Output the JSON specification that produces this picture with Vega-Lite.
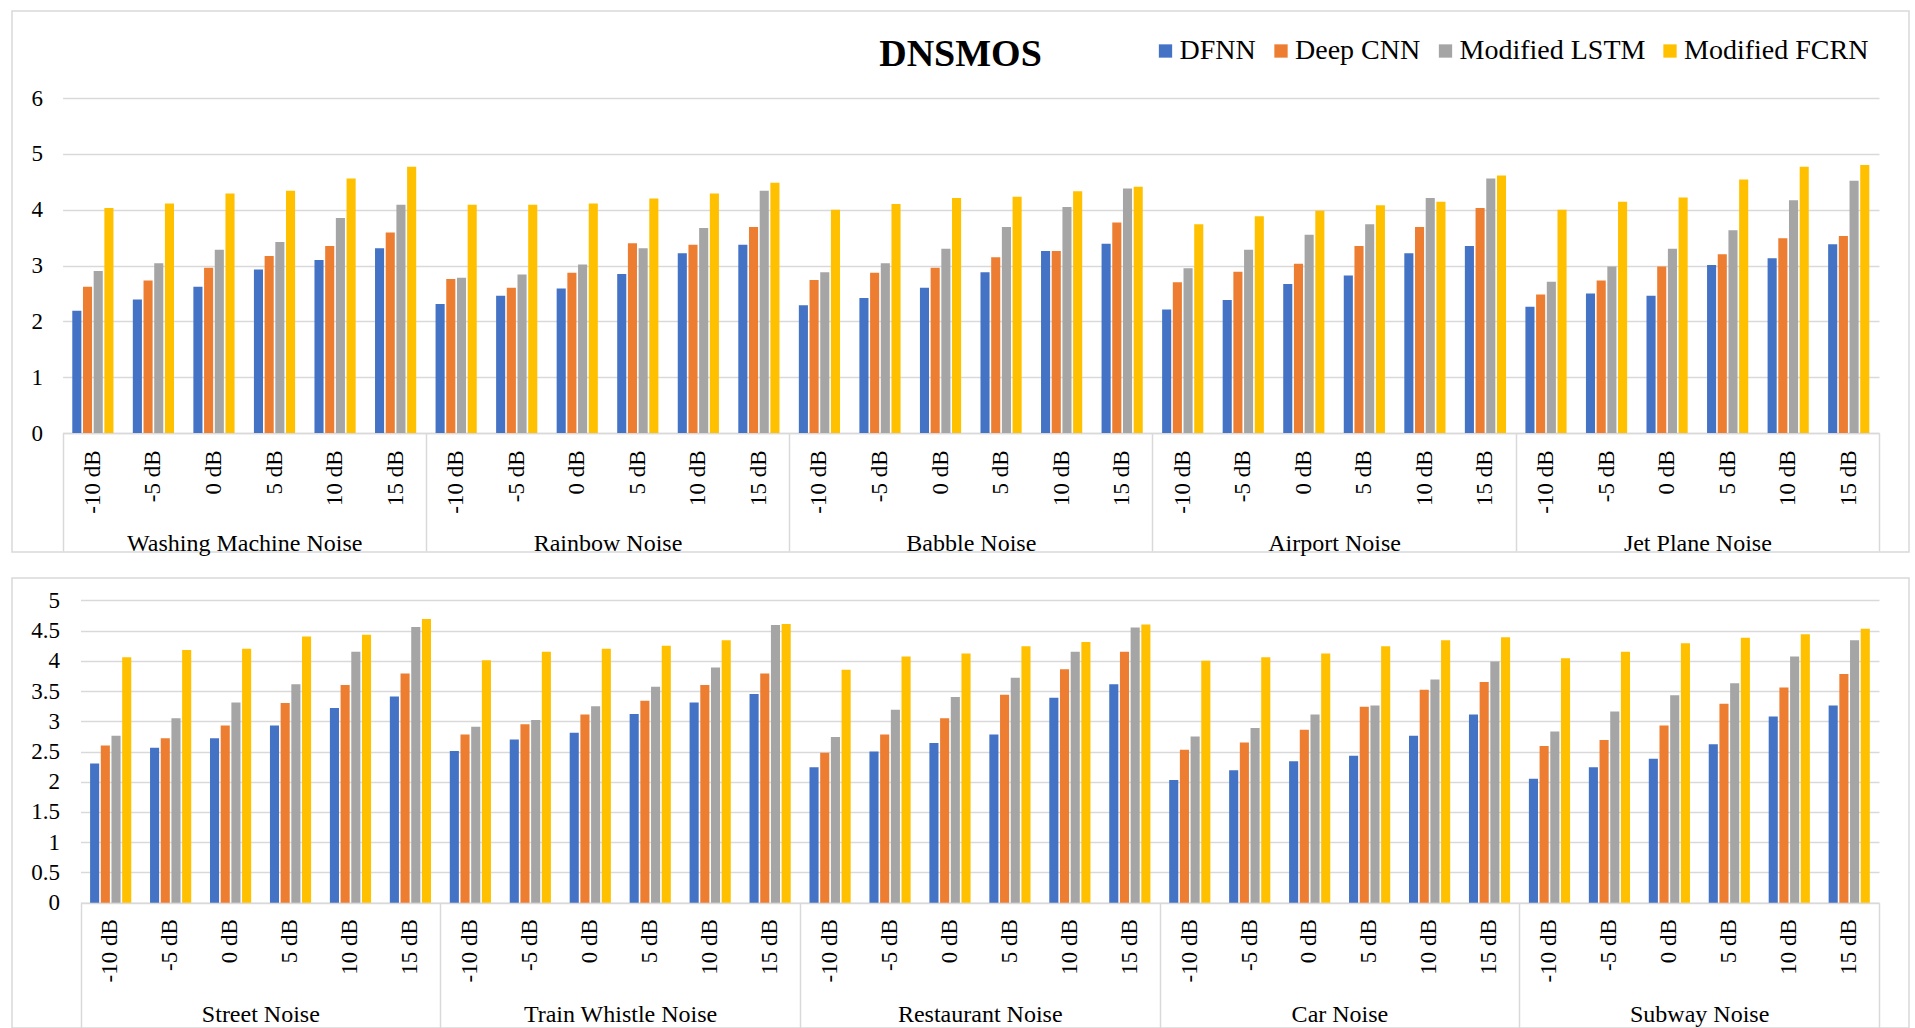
{
  "$schema": "https://vega.github.io/schema/vega-lite/v6.json",
  "background": "white",
  "padding": {"left": 11, "top": 10, "right": 0, "bottom": 0},
  "config": {
    "font": "Liberation Serif",
    "view": {"stroke": "#D9D9D9", "strokeWidth": 1.5},
    "axis": {"labelFont": "Liberation Serif", "labelColor": "#000000", "title": null},
    "legend": {"labelFont": "Liberation Serif", "labelColor": "#000000"}
  },
  "datasets": {
    "top": [
      {"noise": "Washing Machine Noise", "snr": "-10 dB", "model": "DFNN", "score": 2.19},
      {"noise": "Washing Machine Noise", "snr": "-10 dB", "model": "Deep CNN", "score": 2.62},
      {"noise": "Washing Machine Noise", "snr": "-10 dB", "model": "Modified LSTM", "score": 2.90},
      {"noise": "Washing Machine Noise", "snr": "-10 dB", "model": "Modified FCRN", "score": 4.03},
      {"noise": "Washing Machine Noise", "snr": "-5 dB", "model": "DFNN", "score": 2.39},
      {"noise": "Washing Machine Noise", "snr": "-5 dB", "model": "Deep CNN", "score": 2.73},
      {"noise": "Washing Machine Noise", "snr": "-5 dB", "model": "Modified LSTM", "score": 3.04},
      {"noise": "Washing Machine Noise", "snr": "-5 dB", "model": "Modified FCRN", "score": 4.11},
      {"noise": "Washing Machine Noise", "snr": "0 dB", "model": "DFNN", "score": 2.62},
      {"noise": "Washing Machine Noise", "snr": "0 dB", "model": "Deep CNN", "score": 2.96},
      {"noise": "Washing Machine Noise", "snr": "0 dB", "model": "Modified LSTM", "score": 3.28},
      {"noise": "Washing Machine Noise", "snr": "0 dB", "model": "Modified FCRN", "score": 4.29},
      {"noise": "Washing Machine Noise", "snr": "5 dB", "model": "DFNN", "score": 2.93},
      {"noise": "Washing Machine Noise", "snr": "5 dB", "model": "Deep CNN", "score": 3.17},
      {"noise": "Washing Machine Noise", "snr": "5 dB", "model": "Modified LSTM", "score": 3.42},
      {"noise": "Washing Machine Noise", "snr": "5 dB", "model": "Modified FCRN", "score": 4.34},
      {"noise": "Washing Machine Noise", "snr": "10 dB", "model": "DFNN", "score": 3.10},
      {"noise": "Washing Machine Noise", "snr": "10 dB", "model": "Deep CNN", "score": 3.35},
      {"noise": "Washing Machine Noise", "snr": "10 dB", "model": "Modified LSTM", "score": 3.85},
      {"noise": "Washing Machine Noise", "snr": "10 dB", "model": "Modified FCRN", "score": 4.56},
      {"noise": "Washing Machine Noise", "snr": "15 dB", "model": "DFNN", "score": 3.31},
      {"noise": "Washing Machine Noise", "snr": "15 dB", "model": "Deep CNN", "score": 3.59},
      {"noise": "Washing Machine Noise", "snr": "15 dB", "model": "Modified LSTM", "score": 4.09},
      {"noise": "Washing Machine Noise", "snr": "15 dB", "model": "Modified FCRN", "score": 4.77},
      {"noise": "Rainbow Noise", "snr": "-10 dB", "model": "DFNN", "score": 2.31},
      {"noise": "Rainbow Noise", "snr": "-10 dB", "model": "Deep CNN", "score": 2.76},
      {"noise": "Rainbow Noise", "snr": "-10 dB", "model": "Modified LSTM", "score": 2.78},
      {"noise": "Rainbow Noise", "snr": "-10 dB", "model": "Modified FCRN", "score": 4.09},
      {"noise": "Rainbow Noise", "snr": "-5 dB", "model": "DFNN", "score": 2.46},
      {"noise": "Rainbow Noise", "snr": "-5 dB", "model": "Deep CNN", "score": 2.60},
      {"noise": "Rainbow Noise", "snr": "-5 dB", "model": "Modified LSTM", "score": 2.84},
      {"noise": "Rainbow Noise", "snr": "-5 dB", "model": "Modified FCRN", "score": 4.09},
      {"noise": "Rainbow Noise", "snr": "0 dB", "model": "DFNN", "score": 2.59},
      {"noise": "Rainbow Noise", "snr": "0 dB", "model": "Deep CNN", "score": 2.87},
      {"noise": "Rainbow Noise", "snr": "0 dB", "model": "Modified LSTM", "score": 3.02},
      {"noise": "Rainbow Noise", "snr": "0 dB", "model": "Modified FCRN", "score": 4.11},
      {"noise": "Rainbow Noise", "snr": "5 dB", "model": "DFNN", "score": 2.85},
      {"noise": "Rainbow Noise", "snr": "5 dB", "model": "Deep CNN", "score": 3.40},
      {"noise": "Rainbow Noise", "snr": "5 dB", "model": "Modified LSTM", "score": 3.31},
      {"noise": "Rainbow Noise", "snr": "5 dB", "model": "Modified FCRN", "score": 4.20},
      {"noise": "Rainbow Noise", "snr": "10 dB", "model": "DFNN", "score": 3.22},
      {"noise": "Rainbow Noise", "snr": "10 dB", "model": "Deep CNN", "score": 3.37},
      {"noise": "Rainbow Noise", "snr": "10 dB", "model": "Modified LSTM", "score": 3.67},
      {"noise": "Rainbow Noise", "snr": "10 dB", "model": "Modified FCRN", "score": 4.29},
      {"noise": "Rainbow Noise", "snr": "15 dB", "model": "DFNN", "score": 3.37},
      {"noise": "Rainbow Noise", "snr": "15 dB", "model": "Deep CNN", "score": 3.69},
      {"noise": "Rainbow Noise", "snr": "15 dB", "model": "Modified LSTM", "score": 4.34},
      {"noise": "Rainbow Noise", "snr": "15 dB", "model": "Modified FCRN", "score": 4.48},
      {"noise": "Babble Noise", "snr": "-10 dB", "model": "DFNN", "score": 2.29},
      {"noise": "Babble Noise", "snr": "-10 dB", "model": "Deep CNN", "score": 2.74},
      {"noise": "Babble Noise", "snr": "-10 dB", "model": "Modified LSTM", "score": 2.88},
      {"noise": "Babble Noise", "snr": "-10 dB", "model": "Modified FCRN", "score": 4.00},
      {"noise": "Babble Noise", "snr": "-5 dB", "model": "DFNN", "score": 2.42},
      {"noise": "Babble Noise", "snr": "-5 dB", "model": "Deep CNN", "score": 2.87},
      {"noise": "Babble Noise", "snr": "-5 dB", "model": "Modified LSTM", "score": 3.04},
      {"noise": "Babble Noise", "snr": "-5 dB", "model": "Modified FCRN", "score": 4.10},
      {"noise": "Babble Noise", "snr": "0 dB", "model": "DFNN", "score": 2.60},
      {"noise": "Babble Noise", "snr": "0 dB", "model": "Deep CNN", "score": 2.96},
      {"noise": "Babble Noise", "snr": "0 dB", "model": "Modified LSTM", "score": 3.30},
      {"noise": "Babble Noise", "snr": "0 dB", "model": "Modified FCRN", "score": 4.21},
      {"noise": "Babble Noise", "snr": "5 dB", "model": "DFNN", "score": 2.88},
      {"noise": "Babble Noise", "snr": "5 dB", "model": "Deep CNN", "score": 3.15},
      {"noise": "Babble Noise", "snr": "5 dB", "model": "Modified LSTM", "score": 3.69},
      {"noise": "Babble Noise", "snr": "5 dB", "model": "Modified FCRN", "score": 4.23},
      {"noise": "Babble Noise", "snr": "10 dB", "model": "DFNN", "score": 3.26},
      {"noise": "Babble Noise", "snr": "10 dB", "model": "Deep CNN", "score": 3.26},
      {"noise": "Babble Noise", "snr": "10 dB", "model": "Modified LSTM", "score": 4.05},
      {"noise": "Babble Noise", "snr": "10 dB", "model": "Modified FCRN", "score": 4.33},
      {"noise": "Babble Noise", "snr": "15 dB", "model": "DFNN", "score": 3.39},
      {"noise": "Babble Noise", "snr": "15 dB", "model": "Deep CNN", "score": 3.77},
      {"noise": "Babble Noise", "snr": "15 dB", "model": "Modified LSTM", "score": 4.38},
      {"noise": "Babble Noise", "snr": "15 dB", "model": "Modified FCRN", "score": 4.41},
      {"noise": "Airport Noise", "snr": "-10 dB", "model": "DFNN", "score": 2.21},
      {"noise": "Airport Noise", "snr": "-10 dB", "model": "Deep CNN", "score": 2.70},
      {"noise": "Airport Noise", "snr": "-10 dB", "model": "Modified LSTM", "score": 2.95},
      {"noise": "Airport Noise", "snr": "-10 dB", "model": "Modified FCRN", "score": 3.74},
      {"noise": "Airport Noise", "snr": "-5 dB", "model": "DFNN", "score": 2.38},
      {"noise": "Airport Noise", "snr": "-5 dB", "model": "Deep CNN", "score": 2.89},
      {"noise": "Airport Noise", "snr": "-5 dB", "model": "Modified LSTM", "score": 3.28},
      {"noise": "Airport Noise", "snr": "-5 dB", "model": "Modified FCRN", "score": 3.88},
      {"noise": "Airport Noise", "snr": "0 dB", "model": "DFNN", "score": 2.67},
      {"noise": "Airport Noise", "snr": "0 dB", "model": "Deep CNN", "score": 3.03},
      {"noise": "Airport Noise", "snr": "0 dB", "model": "Modified LSTM", "score": 3.55},
      {"noise": "Airport Noise", "snr": "0 dB", "model": "Modified FCRN", "score": 3.98},
      {"noise": "Airport Noise", "snr": "5 dB", "model": "DFNN", "score": 2.82},
      {"noise": "Airport Noise", "snr": "5 dB", "model": "Deep CNN", "score": 3.35},
      {"noise": "Airport Noise", "snr": "5 dB", "model": "Modified LSTM", "score": 3.74},
      {"noise": "Airport Noise", "snr": "5 dB", "model": "Modified FCRN", "score": 4.08},
      {"noise": "Airport Noise", "snr": "10 dB", "model": "DFNN", "score": 3.22},
      {"noise": "Airport Noise", "snr": "10 dB", "model": "Deep CNN", "score": 3.69},
      {"noise": "Airport Noise", "snr": "10 dB", "model": "Modified LSTM", "score": 4.21},
      {"noise": "Airport Noise", "snr": "10 dB", "model": "Modified FCRN", "score": 4.14},
      {"noise": "Airport Noise", "snr": "15 dB", "model": "DFNN", "score": 3.35},
      {"noise": "Airport Noise", "snr": "15 dB", "model": "Deep CNN", "score": 4.03},
      {"noise": "Airport Noise", "snr": "15 dB", "model": "Modified LSTM", "score": 4.56},
      {"noise": "Airport Noise", "snr": "15 dB", "model": "Modified FCRN", "score": 4.61},
      {"noise": "Jet Plane Noise", "snr": "-10 dB", "model": "DFNN", "score": 2.26},
      {"noise": "Jet Plane Noise", "snr": "-10 dB", "model": "Deep CNN", "score": 2.48},
      {"noise": "Jet Plane Noise", "snr": "-10 dB", "model": "Modified LSTM", "score": 2.71},
      {"noise": "Jet Plane Noise", "snr": "-10 dB", "model": "Modified FCRN", "score": 4.00},
      {"noise": "Jet Plane Noise", "snr": "-5 dB", "model": "DFNN", "score": 2.50},
      {"noise": "Jet Plane Noise", "snr": "-5 dB", "model": "Deep CNN", "score": 2.73},
      {"noise": "Jet Plane Noise", "snr": "-5 dB", "model": "Modified LSTM", "score": 2.98},
      {"noise": "Jet Plane Noise", "snr": "-5 dB", "model": "Modified FCRN", "score": 4.14},
      {"noise": "Jet Plane Noise", "snr": "0 dB", "model": "DFNN", "score": 2.46},
      {"noise": "Jet Plane Noise", "snr": "0 dB", "model": "Deep CNN", "score": 2.98},
      {"noise": "Jet Plane Noise", "snr": "0 dB", "model": "Modified LSTM", "score": 3.30},
      {"noise": "Jet Plane Noise", "snr": "0 dB", "model": "Modified FCRN", "score": 4.22},
      {"noise": "Jet Plane Noise", "snr": "5 dB", "model": "DFNN", "score": 3.01},
      {"noise": "Jet Plane Noise", "snr": "5 dB", "model": "Deep CNN", "score": 3.20},
      {"noise": "Jet Plane Noise", "snr": "5 dB", "model": "Modified LSTM", "score": 3.63},
      {"noise": "Jet Plane Noise", "snr": "5 dB", "model": "Modified FCRN", "score": 4.54},
      {"noise": "Jet Plane Noise", "snr": "10 dB", "model": "DFNN", "score": 3.13},
      {"noise": "Jet Plane Noise", "snr": "10 dB", "model": "Deep CNN", "score": 3.49},
      {"noise": "Jet Plane Noise", "snr": "10 dB", "model": "Modified LSTM", "score": 4.17},
      {"noise": "Jet Plane Noise", "snr": "10 dB", "model": "Modified FCRN", "score": 4.77},
      {"noise": "Jet Plane Noise", "snr": "15 dB", "model": "DFNN", "score": 3.38},
      {"noise": "Jet Plane Noise", "snr": "15 dB", "model": "Deep CNN", "score": 3.53},
      {"noise": "Jet Plane Noise", "snr": "15 dB", "model": "Modified LSTM", "score": 4.52},
      {"noise": "Jet Plane Noise", "snr": "15 dB", "model": "Modified FCRN", "score": 4.80}
    ],
    "bottom": [
      {"noise": "Street Noise", "snr": "-10 dB", "model": "DFNN", "score": 2.30},
      {"noise": "Street Noise", "snr": "-10 dB", "model": "Deep CNN", "score": 2.60},
      {"noise": "Street Noise", "snr": "-10 dB", "model": "Modified LSTM", "score": 2.76},
      {"noise": "Street Noise", "snr": "-10 dB", "model": "Modified FCRN", "score": 4.06},
      {"noise": "Street Noise", "snr": "-5 dB", "model": "DFNN", "score": 2.56},
      {"noise": "Street Noise", "snr": "-5 dB", "model": "Deep CNN", "score": 2.72},
      {"noise": "Street Noise", "snr": "-5 dB", "model": "Modified LSTM", "score": 3.05},
      {"noise": "Street Noise", "snr": "-5 dB", "model": "Modified FCRN", "score": 4.18},
      {"noise": "Street Noise", "snr": "0 dB", "model": "DFNN", "score": 2.72},
      {"noise": "Street Noise", "snr": "0 dB", "model": "Deep CNN", "score": 2.93},
      {"noise": "Street Noise", "snr": "0 dB", "model": "Modified LSTM", "score": 3.31},
      {"noise": "Street Noise", "snr": "0 dB", "model": "Modified FCRN", "score": 4.20},
      {"noise": "Street Noise", "snr": "5 dB", "model": "DFNN", "score": 2.93},
      {"noise": "Street Noise", "snr": "5 dB", "model": "Deep CNN", "score": 3.30},
      {"noise": "Street Noise", "snr": "5 dB", "model": "Modified LSTM", "score": 3.61},
      {"noise": "Street Noise", "snr": "5 dB", "model": "Modified FCRN", "score": 4.40},
      {"noise": "Street Noise", "snr": "10 dB", "model": "DFNN", "score": 3.22},
      {"noise": "Street Noise", "snr": "10 dB", "model": "Deep CNN", "score": 3.60},
      {"noise": "Street Noise", "snr": "10 dB", "model": "Modified LSTM", "score": 4.15},
      {"noise": "Street Noise", "snr": "10 dB", "model": "Modified FCRN", "score": 4.43},
      {"noise": "Street Noise", "snr": "15 dB", "model": "DFNN", "score": 3.41},
      {"noise": "Street Noise", "snr": "15 dB", "model": "Deep CNN", "score": 3.79},
      {"noise": "Street Noise", "snr": "15 dB", "model": "Modified LSTM", "score": 4.56},
      {"noise": "Street Noise", "snr": "15 dB", "model": "Modified FCRN", "score": 4.69},
      {"noise": "Train Whistle Noise", "snr": "-10 dB", "model": "DFNN", "score": 2.51},
      {"noise": "Train Whistle Noise", "snr": "-10 dB", "model": "Deep CNN", "score": 2.78},
      {"noise": "Train Whistle Noise", "snr": "-10 dB", "model": "Modified LSTM", "score": 2.91},
      {"noise": "Train Whistle Noise", "snr": "-10 dB", "model": "Modified FCRN", "score": 4.01},
      {"noise": "Train Whistle Noise", "snr": "-5 dB", "model": "DFNN", "score": 2.70},
      {"noise": "Train Whistle Noise", "snr": "-5 dB", "model": "Deep CNN", "score": 2.95},
      {"noise": "Train Whistle Noise", "snr": "-5 dB", "model": "Modified LSTM", "score": 3.02},
      {"noise": "Train Whistle Noise", "snr": "-5 dB", "model": "Modified FCRN", "score": 4.15},
      {"noise": "Train Whistle Noise", "snr": "0 dB", "model": "DFNN", "score": 2.81},
      {"noise": "Train Whistle Noise", "snr": "0 dB", "model": "Deep CNN", "score": 3.11},
      {"noise": "Train Whistle Noise", "snr": "0 dB", "model": "Modified LSTM", "score": 3.25},
      {"noise": "Train Whistle Noise", "snr": "0 dB", "model": "Modified FCRN", "score": 4.20},
      {"noise": "Train Whistle Noise", "snr": "5 dB", "model": "DFNN", "score": 3.12},
      {"noise": "Train Whistle Noise", "snr": "5 dB", "model": "Deep CNN", "score": 3.34},
      {"noise": "Train Whistle Noise", "snr": "5 dB", "model": "Modified LSTM", "score": 3.57},
      {"noise": "Train Whistle Noise", "snr": "5 dB", "model": "Modified FCRN", "score": 4.25},
      {"noise": "Train Whistle Noise", "snr": "10 dB", "model": "DFNN", "score": 3.31},
      {"noise": "Train Whistle Noise", "snr": "10 dB", "model": "Deep CNN", "score": 3.60},
      {"noise": "Train Whistle Noise", "snr": "10 dB", "model": "Modified LSTM", "score": 3.89},
      {"noise": "Train Whistle Noise", "snr": "10 dB", "model": "Modified FCRN", "score": 4.34},
      {"noise": "Train Whistle Noise", "snr": "15 dB", "model": "DFNN", "score": 3.45},
      {"noise": "Train Whistle Noise", "snr": "15 dB", "model": "Deep CNN", "score": 3.79},
      {"noise": "Train Whistle Noise", "snr": "15 dB", "model": "Modified LSTM", "score": 4.59},
      {"noise": "Train Whistle Noise", "snr": "15 dB", "model": "Modified FCRN", "score": 4.61},
      {"noise": "Restaurant Noise", "snr": "-10 dB", "model": "DFNN", "score": 2.24},
      {"noise": "Restaurant Noise", "snr": "-10 dB", "model": "Deep CNN", "score": 2.48},
      {"noise": "Restaurant Noise", "snr": "-10 dB", "model": "Modified LSTM", "score": 2.74},
      {"noise": "Restaurant Noise", "snr": "-10 dB", "model": "Modified FCRN", "score": 3.85},
      {"noise": "Restaurant Noise", "snr": "-5 dB", "model": "DFNN", "score": 2.50},
      {"noise": "Restaurant Noise", "snr": "-5 dB", "model": "Deep CNN", "score": 2.78},
      {"noise": "Restaurant Noise", "snr": "-5 dB", "model": "Modified LSTM", "score": 3.19},
      {"noise": "Restaurant Noise", "snr": "-5 dB", "model": "Modified FCRN", "score": 4.07},
      {"noise": "Restaurant Noise", "snr": "0 dB", "model": "DFNN", "score": 2.64},
      {"noise": "Restaurant Noise", "snr": "0 dB", "model": "Deep CNN", "score": 3.05},
      {"noise": "Restaurant Noise", "snr": "0 dB", "model": "Modified LSTM", "score": 3.40},
      {"noise": "Restaurant Noise", "snr": "0 dB", "model": "Modified FCRN", "score": 4.12},
      {"noise": "Restaurant Noise", "snr": "5 dB", "model": "DFNN", "score": 2.78},
      {"noise": "Restaurant Noise", "snr": "5 dB", "model": "Deep CNN", "score": 3.44},
      {"noise": "Restaurant Noise", "snr": "5 dB", "model": "Modified LSTM", "score": 3.72},
      {"noise": "Restaurant Noise", "snr": "5 dB", "model": "Modified FCRN", "score": 4.24},
      {"noise": "Restaurant Noise", "snr": "10 dB", "model": "DFNN", "score": 3.39},
      {"noise": "Restaurant Noise", "snr": "10 dB", "model": "Deep CNN", "score": 3.86},
      {"noise": "Restaurant Noise", "snr": "10 dB", "model": "Modified LSTM", "score": 4.15},
      {"noise": "Restaurant Noise", "snr": "10 dB", "model": "Modified FCRN", "score": 4.31},
      {"noise": "Restaurant Noise", "snr": "15 dB", "model": "DFNN", "score": 3.61},
      {"noise": "Restaurant Noise", "snr": "15 dB", "model": "Deep CNN", "score": 4.15},
      {"noise": "Restaurant Noise", "snr": "15 dB", "model": "Modified LSTM", "score": 4.55},
      {"noise": "Restaurant Noise", "snr": "15 dB", "model": "Modified FCRN", "score": 4.60},
      {"noise": "Car Noise", "snr": "-10 dB", "model": "DFNN", "score": 2.03},
      {"noise": "Car Noise", "snr": "-10 dB", "model": "Deep CNN", "score": 2.53},
      {"noise": "Car Noise", "snr": "-10 dB", "model": "Modified LSTM", "score": 2.75},
      {"noise": "Car Noise", "snr": "-10 dB", "model": "Modified FCRN", "score": 4.00},
      {"noise": "Car Noise", "snr": "-5 dB", "model": "DFNN", "score": 2.19},
      {"noise": "Car Noise", "snr": "-5 dB", "model": "Deep CNN", "score": 2.65},
      {"noise": "Car Noise", "snr": "-5 dB", "model": "Modified LSTM", "score": 2.89},
      {"noise": "Car Noise", "snr": "-5 dB", "model": "Modified FCRN", "score": 4.06},
      {"noise": "Car Noise", "snr": "0 dB", "model": "DFNN", "score": 2.34},
      {"noise": "Car Noise", "snr": "0 dB", "model": "Deep CNN", "score": 2.86},
      {"noise": "Car Noise", "snr": "0 dB", "model": "Modified LSTM", "score": 3.11},
      {"noise": "Car Noise", "snr": "0 dB", "model": "Modified FCRN", "score": 4.12},
      {"noise": "Car Noise", "snr": "5 dB", "model": "DFNN", "score": 2.43},
      {"noise": "Car Noise", "snr": "5 dB", "model": "Deep CNN", "score": 3.24},
      {"noise": "Car Noise", "snr": "5 dB", "model": "Modified LSTM", "score": 3.26},
      {"noise": "Car Noise", "snr": "5 dB", "model": "Modified FCRN", "score": 4.24},
      {"noise": "Car Noise", "snr": "10 dB", "model": "DFNN", "score": 2.76},
      {"noise": "Car Noise", "snr": "10 dB", "model": "Deep CNN", "score": 3.52},
      {"noise": "Car Noise", "snr": "10 dB", "model": "Modified LSTM", "score": 3.69},
      {"noise": "Car Noise", "snr": "10 dB", "model": "Modified FCRN", "score": 4.34},
      {"noise": "Car Noise", "snr": "15 dB", "model": "DFNN", "score": 3.11},
      {"noise": "Car Noise", "snr": "15 dB", "model": "Deep CNN", "score": 3.65},
      {"noise": "Car Noise", "snr": "15 dB", "model": "Modified LSTM", "score": 3.99},
      {"noise": "Car Noise", "snr": "15 dB", "model": "Modified FCRN", "score": 4.39},
      {"noise": "Subway Noise", "snr": "-10 dB", "model": "DFNN", "score": 2.05},
      {"noise": "Subway Noise", "snr": "-10 dB", "model": "Deep CNN", "score": 2.59},
      {"noise": "Subway Noise", "snr": "-10 dB", "model": "Modified LSTM", "score": 2.83},
      {"noise": "Subway Noise", "snr": "-10 dB", "model": "Modified FCRN", "score": 4.04},
      {"noise": "Subway Noise", "snr": "-5 dB", "model": "DFNN", "score": 2.24},
      {"noise": "Subway Noise", "snr": "-5 dB", "model": "Deep CNN", "score": 2.69},
      {"noise": "Subway Noise", "snr": "-5 dB", "model": "Modified LSTM", "score": 3.16},
      {"noise": "Subway Noise", "snr": "-5 dB", "model": "Modified FCRN", "score": 4.15},
      {"noise": "Subway Noise", "snr": "0 dB", "model": "DFNN", "score": 2.38},
      {"noise": "Subway Noise", "snr": "0 dB", "model": "Deep CNN", "score": 2.93},
      {"noise": "Subway Noise", "snr": "0 dB", "model": "Modified LSTM", "score": 3.43},
      {"noise": "Subway Noise", "snr": "0 dB", "model": "Modified FCRN", "score": 4.29},
      {"noise": "Subway Noise", "snr": "5 dB", "model": "DFNN", "score": 2.62},
      {"noise": "Subway Noise", "snr": "5 dB", "model": "Deep CNN", "score": 3.29},
      {"noise": "Subway Noise", "snr": "5 dB", "model": "Modified LSTM", "score": 3.63},
      {"noise": "Subway Noise", "snr": "5 dB", "model": "Modified FCRN", "score": 4.38},
      {"noise": "Subway Noise", "snr": "10 dB", "model": "DFNN", "score": 3.08},
      {"noise": "Subway Noise", "snr": "10 dB", "model": "Deep CNN", "score": 3.56},
      {"noise": "Subway Noise", "snr": "10 dB", "model": "Modified LSTM", "score": 4.07},
      {"noise": "Subway Noise", "snr": "10 dB", "model": "Modified FCRN", "score": 4.44},
      {"noise": "Subway Noise", "snr": "15 dB", "model": "DFNN", "score": 3.26},
      {"noise": "Subway Noise", "snr": "15 dB", "model": "Deep CNN", "score": 3.78},
      {"noise": "Subway Noise", "snr": "15 dB", "model": "Modified LSTM", "score": 4.34},
      {"noise": "Subway Noise", "snr": "15 dB", "model": "Modified FCRN", "score": 4.53}
    ]
  },
  "bounds": "flush",
  "spacing": 26,
  "vconcat": [
    {
      "width": 1897,
      "height": 541,
      "title": {"text": "DNSMOS", "anchor": "middle", "frame": "group", "offset": -93, "baseline": "alphabetic", "font": "Liberation Serif", "fontSize": 38, "fontWeight": "bold", "color": "#000000"},
      "data": {"name": "top"},
      "transform": [{"calculate": "datum.noise + '|' + datum.snr", "as": "condition"}],
      "layer": [
        {
          "mark": {"type": "bar"},
          "encoding": {
            "x": {
              "field": "condition", "type": "nominal", "sort": null,
              "scale": {"range": [50.6, 1867], "paddingInner": 0.32, "paddingOuter": 0.16},
              "axis": {"orient": "bottom", "offset": -119, "labelExpr": "split(datum.value, '|')[1]", "labelAngle": 270, "labelAlign": "right", "labelBaseline": "middle", "labelFontSize": 23, "labelPadding": 17, "labelOverlap": false, "labelBound": false, "ticks": false, "tickSize": 0, "domain": true, "domainColor": "#D9D9D9", "domainWidth": 1.5, "grid": false}
            },
            "xOffset": {"field": "model", "type": "nominal", "sort": ["DFNN", "Deep CNN", "Modified LSTM", "Modified FCRN"], "scale": {"paddingInner": 0.15}},
            "y": {
              "field": "score", "type": "quantitative",
              "scale": {"domain": [0, 6], "range": [422, 87], "nice": false},
              "axis": {"orient": "left", "offset": -50.6, "values": [0, 1, 2, 3, 4, 5, 6], "grid": true, "gridColor": "#D9D9D9", "gridWidth": 1.5, "domain": false, "ticks": false, "tickSize": 0, "labelPadding": 20, "labelFontSize": 23}
            },
            "color": {
              "field": "model", "type": "nominal",
              "scale": {"domain": ["DFNN", "Deep CNN", "Modified LSTM", "Modified FCRN"], "range": ["#4472C4", "#ED7D31", "#A5A5A5", "#FFC000"]},
              "legend": {"orient": "none", "legendX": 1139.5, "legendY": 26, "direction": "horizontal", "title": null, "symbolType": "square", "symbolSize": 177, "symbolStrokeWidth": 0, "labelFontSize": 28, "labelOffset": 0, "columnPadding": 10.5, "padding": 0, "labelLimit": 400}
            }
          }
        },
        {
          "mark": {"type": "bar", "opacity": 0},
          "encoding": {
            "x": {
              "field": "noise", "type": "nominal", "sort": null,
              "scale": {"type": "band", "range": [50.6, 1867], "paddingInner": 0, "paddingOuter": 0},
              "axis": {"orient": "bottom", "offset": -119, "tickBand": "extent", "tickSize": 118, "tickColor": "#D9D9D9", "tickWidth": 1.5, "domain": false, "grid": false, "labelAngle": 0, "labelAlign": "center", "labelBaseline": "alphabetic", "labelPadding": -1, "labelFontSize": 24, "labelLimit": 400}
            }
          }
        }
      ],
      "resolve": {"scale": {"x": "independent"}, "axis": {"x": "independent"}}
    },
    {
      "width": 1897,
      "height": 450,
      "data": {"name": "bottom"},
      "transform": [{"calculate": "datum.noise + '|' + datum.snr", "as": "condition"}],
      "layer": [
        {
          "mark": {"type": "bar"},
          "encoding": {
            "x": {
              "field": "condition", "type": "nominal", "sort": null,
              "scale": {"range": [68.5, 1867], "paddingInner": 0.32, "paddingOuter": 0.16},
              "axis": {"orient": "bottom", "offset": -125.3, "labelExpr": "split(datum.value, '|')[1]", "labelAngle": 270, "labelAlign": "right", "labelBaseline": "middle", "labelFontSize": 23, "labelPadding": 16, "labelOverlap": false, "labelBound": false, "ticks": false, "tickSize": 0, "domain": true, "domainColor": "#D9D9D9", "domainWidth": 1.5, "grid": false}
            },
            "xOffset": {"field": "model", "type": "nominal", "sort": ["DFNN", "Deep CNN", "Modified LSTM", "Modified FCRN"], "scale": {"paddingInner": 0.15}},
            "y": {
              "field": "score", "type": "quantitative",
              "scale": {"domain": [0, 5], "range": [324.7, 22.3], "nice": false},
              "axis": {"orient": "left", "offset": -68.5, "values": [0, 0.5, 1, 1.5, 2, 2.5, 3, 3.5, 4, 4.5, 5], "format": "~g", "grid": true, "gridColor": "#D9D9D9", "gridWidth": 1.5, "domain": false, "ticks": false, "tickSize": 0, "labelPadding": 21, "labelFontSize": 23}
            },
            "color": {
              "field": "model", "type": "nominal",
              "scale": {"domain": ["DFNN", "Deep CNN", "Modified LSTM", "Modified FCRN"], "range": ["#4472C4", "#ED7D31", "#A5A5A5", "#FFC000"]}
            }
          }
        },
        {
          "mark": {"type": "bar", "opacity": 0},
          "encoding": {
            "x": {
              "field": "noise", "type": "nominal", "sort": null,
              "scale": {"type": "band", "range": [68.5, 1867], "paddingInner": 0, "paddingOuter": 0},
              "axis": {"orient": "bottom", "offset": -125.3, "tickBand": "extent", "tickSize": 125, "tickColor": "#D9D9D9", "tickWidth": 1.5, "domain": false, "grid": false, "labelAngle": 0, "labelAlign": "center", "labelBaseline": "alphabetic", "labelPadding": -6, "labelFontSize": 24, "labelLimit": 400}
            }
          }
        }
      ],
      "resolve": {"scale": {"x": "independent"}, "axis": {"x": "independent"}}
    }
  ]
}
